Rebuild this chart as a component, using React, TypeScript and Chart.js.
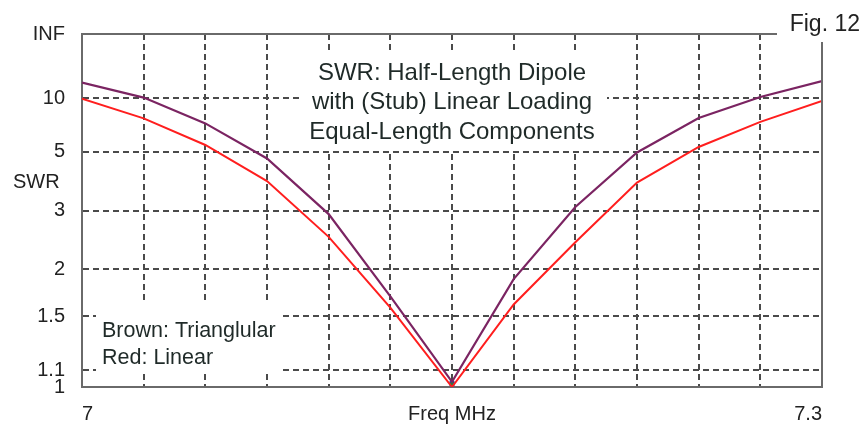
import React, { useEffect, useRef } from "react";
import { Chart, registerables } from "chart.js";

Chart.register(...registerables);

// Frequencies (MHz)
const freqs = [7.0, 7.025, 7.05, 7.075, 7.1, 7.125, 7.15, 7.175, 7.2, 7.225, 7.25, 7.275, 7.3];
// SWR values
const swrTriangular = [13.5, 10.1, 6.9, 4.67, 2.92, 1.69, 1.03, 1.88, 3.08, 4.96, 7.4, 10.2, 14.0];
const swrLinear = [9.9, 7.37, 5.36, 3.8, 2.48, 1.58, 1.0, 1.61, 2.39, 3.75, 5.25, 7.03, 9.53];
const markerFreq = [7.15];
const markerSwr = [1.02];

// Axis ticks
const yTickSwr = [1, 1.1, 1.5, 2, 3, 5, 10, Infinity];
const yTickLabels = ["1", "1.1", "1.5", "2", "3", "5", "10", "INF"];
const xTickValues = freqs;
const xTickLabels = ["7", "", "", "", "", "", "Freq MHz", "", "", "", "", "", "7.3"];

const titleLines = ["SWR: Half-Length Dipole", "with (Stub) Linear Loading", "Equal-Length Components"];
const legendLines = ["Brown: Trianglular", "Red: Linear"];
const figLabel = "Fig. 12";
const yTitle = "SWR";

const toRho = (s: number) => (s === Infinity ? 1 : (s - 1) / (s + 1));

const FONT = "'Liberation Sans', Arial, sans-serif";
const TEXT = "#1f2a28";
const GRID = "#4a4a4a";

const overlay = {
  id: "overlay",
  beforeDatasetsDraw(chart: any) {
    const { ctx } = chart;
    ctx.save();
    ctx.fillStyle = "#fff";
    // opaque boxes behind the title and the legend text
    ctx.fillRect(303, 53, 304, 98);
    ctx.fillRect(96, 304, 187, 70);
    ctx.restore();
  },
  afterDraw(chart: any) {
    const { ctx, chartArea } = chart;
    const { left, right, top, bottom } = chartArea;
    ctx.save();
    // frame top and right
    ctx.strokeStyle = "#6a6a6a";
    ctx.lineWidth = 2;
    ctx.beginPath();
    ctx.moveTo(left, top);
    ctx.lineTo(right - 45, top);
    ctx.moveTo(right, top + 8);
    ctx.lineTo(right, bottom);
    ctx.stroke();

    ctx.fillStyle = TEXT;
    ctx.textBaseline = "alphabetic";
    // title
    ctx.font = `24px ${FONT}`;
    ctx.textAlign = "center";
    const cx = (left + right) / 2;
    const baselines = [80, 109, 139];
    titleLines.forEach((t, i) => ctx.fillText(t, cx, baselines[i]));
    // legend
    ctx.font = `21.5px ${FONT}`;
    ctx.textAlign = "left";
    ctx.fillText(legendLines[0], left + 20, 337);
    ctx.fillText(legendLines[1], left + 20, 364);
    // fig label
    ctx.font = `23px ${FONT}`;
    ctx.textAlign = "right";
    ctx.fillStyle = "#222";
    ctx.fillText(figLabel, 860, 31);
    // SWR y title
    ctx.font = `20px ${FONT}`;
    ctx.textAlign = "left";
    ctx.textBaseline = "middle";
    ctx.fillText(yTitle, 13, 182);
    ctx.restore();
  },
};

export default function App() {
  const ref = useRef<HTMLCanvasElement | null>(null);

  useEffect(() => {
    if (!ref.current) return;
    const chart = new Chart(ref.current, {
      type: "line",
      data: {
        datasets: [
          {
            label: "Triangular",
            data: freqs.map((f, i) => ({ x: f, y: toRho(swrTriangular[i]) })),
            borderColor: "#7b2462",
            borderWidth: 2.2,
            pointRadius: 0,
            tension: 0,
          },
          {
            label: "Linear",
            data: freqs.map((f, i) => ({ x: f, y: toRho(swrLinear[i]) })),
            borderColor: "#ff1e1e",
            borderWidth: 2,
            pointRadius: 0,
            tension: 0,
          },
          {
            label: "marker",
            data: markerFreq.map((f, i) => ({ x: f, y: toRho(markerSwr[i]) })),
            showLine: false,
            pointStyle: "rect",
            pointRadius: 3,
            backgroundColor: "#1a8a3a",
            borderColor: "#2040c0",
            borderWidth: 1,
          },
        ],
      },
      options: {
        animation: false,
        responsive: true,
        maintainAspectRatio: false,
        layout: { padding: { left: 0, right: 40, top: 34, bottom: 0 } },
        plugins: { legend: { display: false }, tooltip: { enabled: false }, title: { display: false } },
        scales: {
          x: {
            type: "linear",
            min: 7,
            max: 7.3,
            afterBuildTicks: (scale: any) => {
              scale.ticks = xTickValues.map((v) => ({ value: v }));
            },
            afterFit: (scale: any) => {
              scale.height = 39;
            },
            ticks: {
              autoSkip: false,
              maxRotation: 0,
              minRotation: 0,
              align: "inner",
              padding: 15,
              color: "#222",
              font: { family: FONT, size: 20 },
              callback: (_v: any, i: number) => xTickLabels[i],
            },
            grid: {
              drawTicks: false,
              color: (c: any) => (c.index === 0 || c.index === xTickValues.length - 1 ? "rgba(0,0,0,0)" : GRID),
              lineWidth: 2,
            },
            border: { display: true, color: "#6a6a6a", width: 2, dash: [6, 4] },
          } as any,
          y: {
            type: "linear",
            min: 0,
            max: 1,
            afterBuildTicks: (scale: any) => {
              scale.ticks = yTickSwr.map((s) => ({ value: toRho(s) }));
            },
            afterFit: (scale: any) => {
              scale.width = 82;
            },
            ticks: {
              autoSkip: false,
              padding: 17,
              color: "#222",
              font: { family: FONT, size: 20 },
              callback: (_v: any, i: number) => yTickLabels[i],
            },
            grid: {
              drawTicks: false,
              color: (c: any) => (c.index === 0 || c.index === yTickSwr.length - 1 ? "rgba(0,0,0,0)" : GRID),
              lineWidth: 2,
            },
            border: { display: true, color: "#6a6a6a", width: 2, dash: [6, 4] },
          } as any,
        },
      },
      plugins: [overlay],
    });
    return () => chart.destroy();
  }, []);

  return (
    <div style={{ position: "fixed", left: 0, top: 0, width: 862, height: 426, background: "#fff" }}>
      <canvas ref={ref} />
    </div>
  );
}
